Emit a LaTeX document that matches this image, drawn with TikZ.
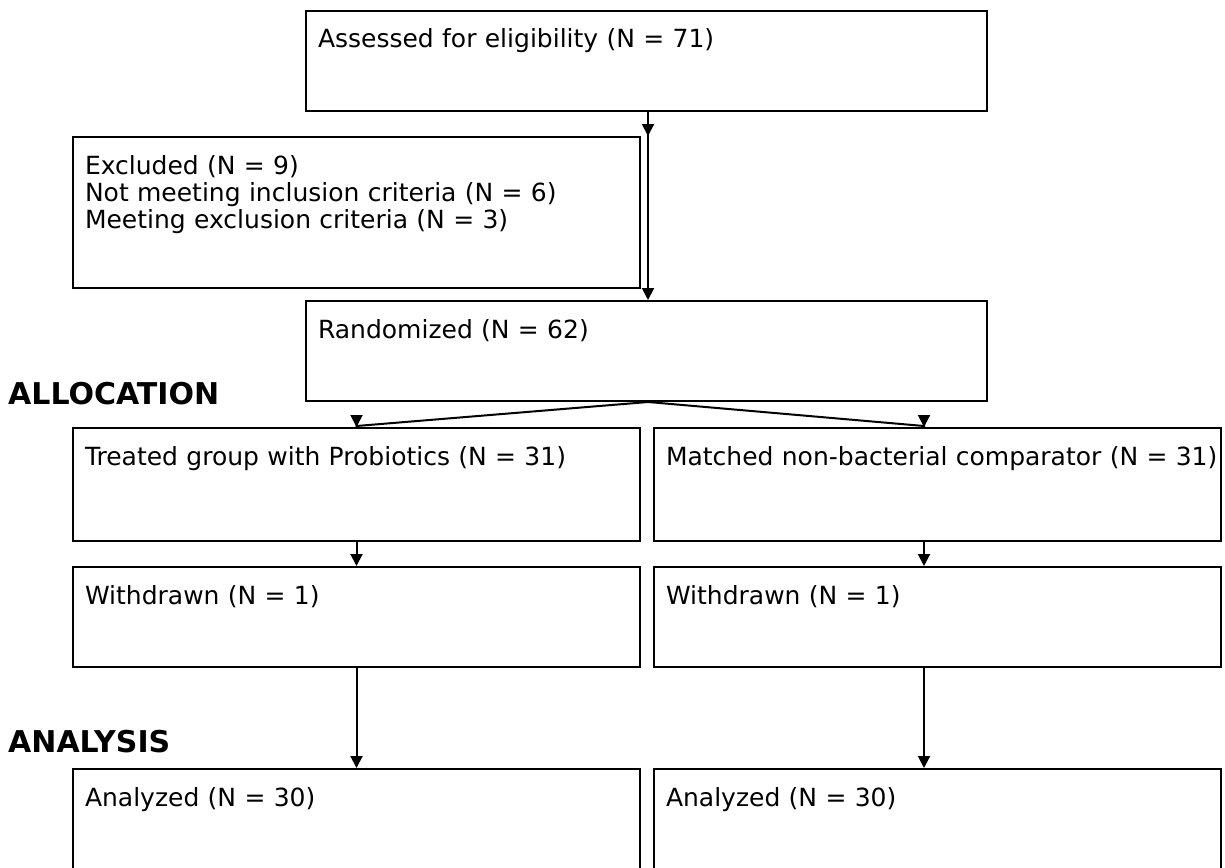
\documentclass[tikz,border=0pt]{standalone}
\usepackage{fontspec}
\setmainfont{DejaVu Sans}
\usetikzlibrary{arrows.meta}

\tikzset{
    stage/.style={draw, line width=2pt, anchor=north west, align=left,
        inner xsep=12pt, inner ysep=0pt, text height=37pt,
        font=\fontsize{25}{27}\selectfont},
    wide/.style={stage, text width=657pt, text depth=63pt},
    half/.style={stage, text width=543pt, text depth=#1},
    phase/.style={anchor=base west, inner sep=0pt,
        font=\fontsize{30}{32}\selectfont\bfseries},
    flow/.style={line width=2pt, -{Triangle[length=12pt, width=12pt]}},
}

\begin{document}
\begin{tikzpicture}[x=1pt, y=1pt]
    \useasboundingbox (0,0) rectangle (1225,-867);

    % columns of the arrows
    \coordinate (mcol) at (648,0);
    \coordinate (rcol) at (924,0);

    \node[wide] (assess) at (305,-10) {Assessed for eligibility (N = 71)};
    \node[half=114pt] (excl) at (72,-136) {Excluded (N = 9)\\
        Not meeting inclusion criteria (N = 6)\\
        Meeting exclusion criteria (N = 3)};
    \node[wide] (rand) at (305,-300) {Randomized (N = 62)};

    \node[phase] (alloc) at (8,-404) {ALLOCATION};

    \node[half=76pt] (treat) at (72,-427) {Treated group with Probiotics (N = 31)};
    \node[half=76pt] (comp) at (653,-427)
        {\mbox{Matched non-bacterial comparator (N = 31)}};
    \node[half=63pt] (wdtreat) at (72,-566) {Withdrawn (N = 1)};
    \node[half=63pt] (wdcomp) at (653,-566) {Withdrawn (N = 1)};

    \node[phase] (analysis) at (8,-752) {ANALYSIS};

    \node[half=65pt] (antreat) at (72,-768) {Analyzed (N = 30)};
    \node[half=65pt] (ancomp) at (653,-768) {Analyzed (N = 30)};

    % arrows
    \draw[flow] (mcol |- assess.south) -- (mcol |- excl.north);
    \draw[flow] (mcol |- assess.south) -- (mcol |- rand.north);

    \draw[flow] (mcol |- rand.south) -- ([yshift=1pt]treat.north) -- (treat.north);
    \draw[flow] (mcol |- rand.south) -- ([yshift=1pt]rcol |- comp.north) -- (rcol |- comp.north);

    \draw[flow] (treat.south) -- (wdtreat.north);
    \draw[flow] (rcol |- comp.south) -- (rcol |- wdcomp.north);
    \draw[flow] (wdtreat.south) -- (antreat.north);
    \draw[flow] (rcol |- wdcomp.south) -- (rcol |- ancomp.north);
\end{tikzpicture}
\end{document}
